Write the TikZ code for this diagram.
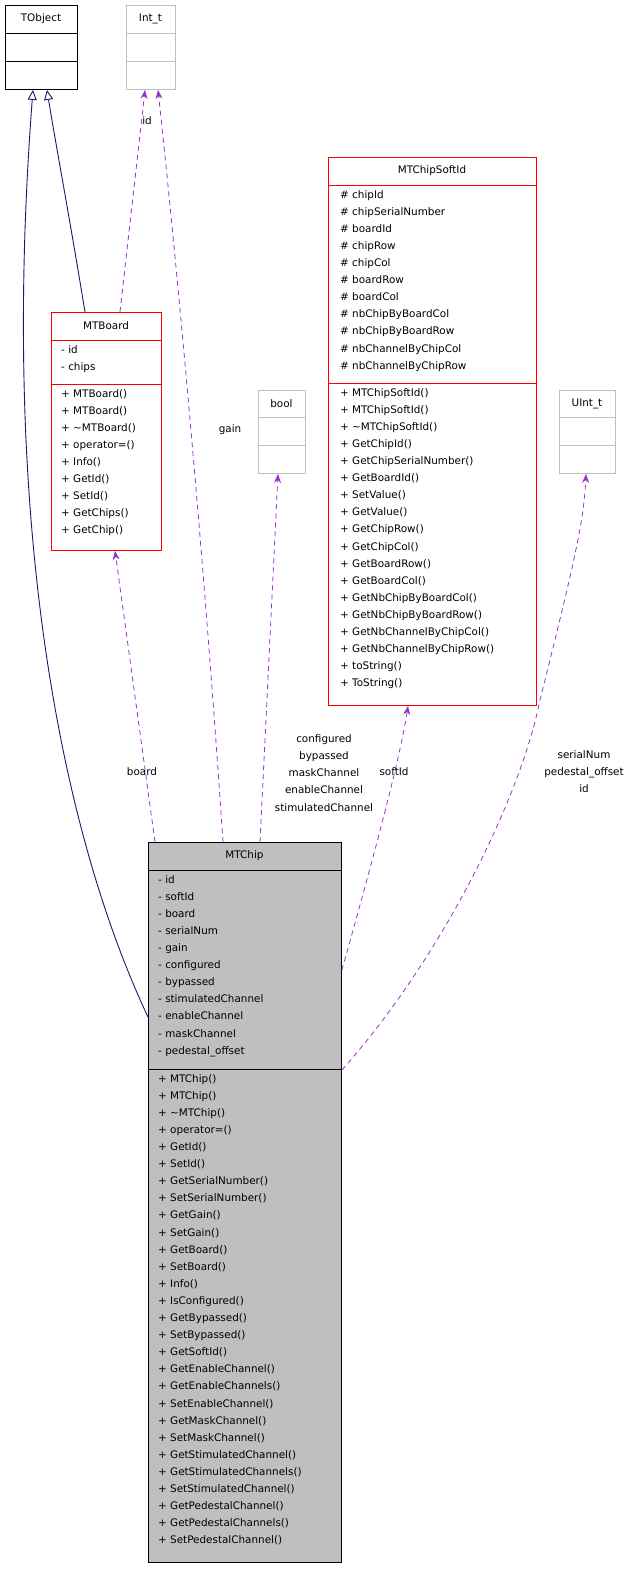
\documentclass[tikz,border=0pt]{standalone}
\usepackage{fontspec}
\setmainfont{DejaVu Sans}
\usetikzlibrary{arrows.meta}
\definecolor{dpurple}{HTML}{9A32CD}
\definecolor{dnavy}{HTML}{191970}
\definecolor{dgray}{HTML}{BFBFBF}
\definecolor{lgray}{HTML}{BFBFBF}
\newcommand\cbox[9]{%
 \node[draw=#8,fill=#9,line width=0.9pt,inner sep=0,anchor=north west,minimum width=#4-#2,minimum height=#7-#3] (#1) at (#2,#3) {};
 \draw[#8,line width=0.9pt] (#2,#5) -- (#4,#5) (#2,#6) -- (#4,#6);
}
\tikzset{
 x=1pt,y=-1pt,
 lbl/.style={font=\fontsize{10.4}{17.1}\selectfont,inner sep=0,align=left},
 ctr/.style={font=\fontsize{10.4}{17.1}\selectfont,inner sep=0,align=center},
 uses/.style={dpurple,dashed,dash pattern=on 5pt off 4pt,line width=0.8pt,-{Stealth[length=9pt,width=7pt]}},
 inh/.style={dnavy,line width=0.9pt,-{Triangle[open,length=10pt,width=9pt,fill=white]}},
}
\begin{document}
\begin{tikzpicture}
\useasboundingbox (0,0) rectangle (644,1581);
% TObject
\cbox{tobject}{5}{5}{77}{33}{61}{89}{black}{white}
\node[ctr] (tobjectt) at (41,19) {TObject};
% Int_t
\cbox{intt}{126}{5}{175}{33}{61}{89}{lgray}{white}
\node[ctr] (inttt) at (150.5,19) {Int\_t};
% MTChipSoftId
\cbox{soft}{328}{157}{536}{185}{383}{705}{red}{white}
\node[ctr] (softt) at (432,171) {MTChipSoftId};
\node[lbl,anchor=north west] (softa) at (340,190) {\# chipId\\\# chipSerialNumber\\\# boardId\\\# chipRow\\\# chipCol\\\# boardRow\\\# boardCol\\\# nbChipByBoardCol\\\# nbChipByBoardRow\\\# nbChannelByChipCol\\\# nbChannelByChipRow};
\node[lbl,anchor=north west] (softm) at (340,388) {+ MTChipSoftId()\\+ MTChipSoftId()\\+ \textasciitilde MTChipSoftId()\\+ GetChipId()\\+ GetChipSerialNumber()\\+ GetBoardId()\\+ SetValue()\\+ GetValue()\\+ GetChipRow()\\+ GetChipCol()\\+ GetBoardRow()\\+ GetBoardCol()\\+ GetNbChipByBoardCol()\\+ GetNbChipByBoardRow()\\+ GetNbChannelByChipCol()\\+ GetNbChannelByChipRow()\\+ toString()\\+ ToString()};
% bool
\cbox{bool}{258}{390}{305}{417}{445}{473}{lgray}{white}
\node[ctr] (boolt) at (281.5,404) {bool};
% UInt_t
\cbox{uint}{559}{390}{615}{417}{445}{473}{lgray}{white}
\node[ctr] (uintt) at (587,404) {UInt\_t};
% MTBoard
\cbox{board}{51}{312}{161}{340}{384}{550}{red}{white}
\node[ctr] (boardt) at (106,326) {MTBoard};
\node[lbl,anchor=north west] (boarda) at (61,345) {- id\\- chips};
\node[lbl,anchor=north west] (boardm) at (61,389) {+ MTBoard()\\+ MTBoard()\\+ \textasciitilde MTBoard()\\+ operator=()\\+ Info()\\+ GetId()\\+ SetId()\\+ GetChips()\\+ GetChip()};
% MTChip
\cbox{chip}{148}{842}{341}{870}{1069}{1562}{black}{dgray}
\node[ctr] (chipt) at (244.5,856) {MTChip};
\node[lbl,anchor=north west] (chipa) at (158,875) {- id\\- softId\\- board\\- serialNum\\- gain\\- configured\\- bypassed\\- stimulatedChannel\\- enableChannel\\- maskChannel\\- pedestal\_offset};
\node[lbl,anchor=north west] (chipm) at (158,1074) {+ MTChip()\\+ MTChip()\\+ \textasciitilde MTChip()\\+ operator=()\\+ GetId()\\+ SetId()\\+ GetSerialNumber()\\+ SetSerialNumber()\\+ GetGain()\\+ SetGain()\\+ GetBoard()\\+ SetBoard()\\+ Info()\\+ IsConfigured()\\+ GetBypassed()\\+ SetBypassed()\\+ GetSoftId()\\+ GetEnableChannel()\\+ GetEnableChannels()\\+ SetEnableChannel()\\+ GetMaskChannel()\\+ SetMaskChannel()\\+ GetStimulatedChannel()\\+ GetStimulatedChannels()\\+ SetStimulatedChannel()\\+ GetPedestalChannel()\\+ GetPedestalChannels()\\+ SetPedestalChannel()};
% connectors
\draw[inh] (chip.west |- 0,1017) .. controls (60,830) and (0,520) .. (tobject.south -| 33,0);
\draw[inh] (board.north -| 85,0) .. controls (70,220) and (55,140) .. (tobject.south -| 47,0);
\draw[uses] (board.north -| 120,0) -- (intt.south -| 145,0);
\node[ctr] (lid) at (147,121) {id};
\draw[uses] (chip.north -| 223,0) .. controls (200,500) and (170,200) .. (intt.south -| 158,0);
\node[ctr] (lgain) at (230,430) {gain};
\draw[uses] (chip.north -| 260,0) -- (bool.south -| 278,0);
\node[ctr] (lbool) at (324,773) {configured\\bypassed\\maskChannel\\enableChannel\\stimulatedChannel};
\draw[uses] (chip.north -| 155,0) -- (board.south -| 115,0);
\node[ctr] (lboard) at (142,772) {board};
\draw[uses] (chip.east |- 0,970) .. controls (370,870) and (400,760) .. (soft.south -| 408,0);
\node[ctr] (lsoft) at (394,772) {softId};
\draw[uses] (chip.east |- 0,1070) .. controls (440,960) and (520,800) .. (540,700) .. controls (575,560) and (584,520) .. (uint.south -| 586,0);
\node[ctr] (luint) at (584,772) {serialNum\\pedestal\_offset\\id};
\end{tikzpicture}
\end{document}
